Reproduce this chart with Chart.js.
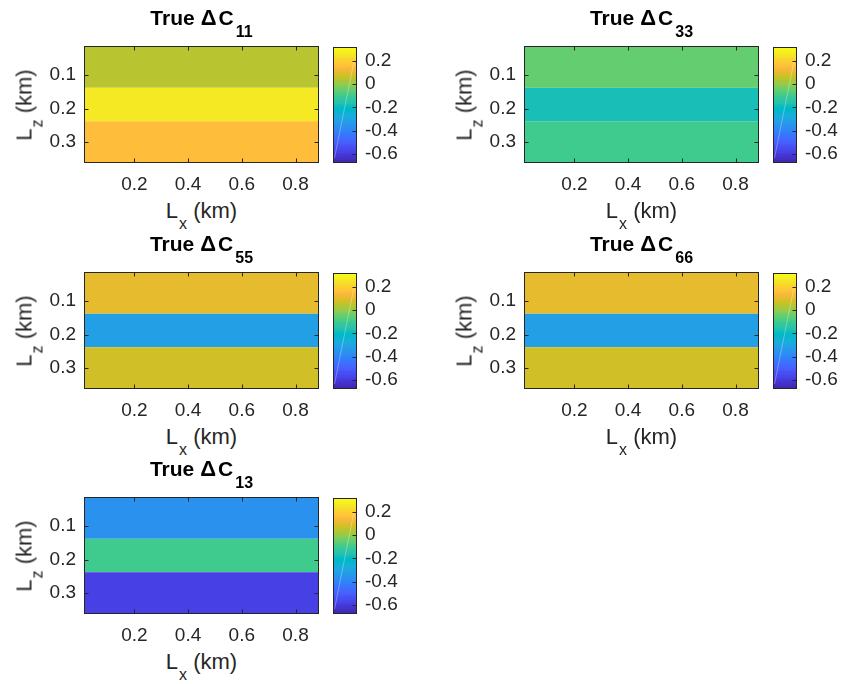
<!DOCTYPE html>
<html>
<head>
<meta charset="utf-8">
<script src="https://cdn.jsdelivr.net/npm/chart.js@4.4.1/dist/chart.umd.min.js"></script>
<style>
    body { margin: 0; background: #fff; }
    #figure { position: relative; width: 841px; height: 684px; font-family: 'Liberation Sans', Arial, sans-serif; color: #262626; }
    #figure canvas { position: absolute; }
    .title { position: absolute; text-align: center; font-weight: bold; font-size: 21px; line-height: 24px; color: #000; white-space: nowrap; }
    .title .delta { font-size: 22px; margin-left: 6px; margin-right: 2px; }
    .title sub { font-size: 16px; vertical-align: -12px; line-height: 0; margin-left: 2px; }
    .xlabel, .ylabel { position: absolute; font-size: 22px; line-height: 26px; height: 26px; white-space: nowrap; text-align: center; }
    .xlabel sub, .ylabel sub { font-size: 16px; vertical-align: -11px; line-height: 0; margin-left: 1px; }
    .ylabel { transform-origin: center; transform: rotate(-90deg); }
</style>
</head>
<body>
<div id="figure"></div>
<script>
// model extent (km) and layer interfaces
const xRange = [0.0125, 0.8875];
const zEdges = [0.0125, 0.1375, 0.2375, 0.3625];
const xTicks = [0.2, 0.4, 0.6, 0.8];
const zTicks = [0.1, 0.2, 0.3];
const cbarTicks = [-0.6, -0.4, -0.2, 0, 0.2];
const cLimits = [-0.68, 0.32];

// true perturbation per layer, top to bottom
const dC11 = [0.05, 0.26, 0.16];
const dC33 = [-0.045, -0.17, -0.095];
const dC55 = [0.105, -0.315, 0.08];
const dC66 = [0.11, -0.315, 0.085];
const dC13 = [-0.365, -0.095, -0.575];

const panels = [
    { sub: '11', values: dC11, col: 0, row: 0 },
    { sub: '33', values: dC33, col: 1, row: 0 },
    { sub: '55', values: dC55, col: 0, row: 1 },
    { sub: '66', values: dC66, col: 1, row: 1 },
    { sub: '13', values: dC13, col: 0, row: 2 }
];

// parula, 64 entries
const parula = [
    [0.2422,0.1504,0.6603],[0.2504,0.1650,0.7076],[0.2578,0.1818,0.7511],[0.2647,0.1978,0.7952],
    [0.2706,0.2147,0.8364],[0.2751,0.2342,0.8710],[0.2783,0.2559,0.8991],[0.2803,0.2782,0.9221],
    [0.2813,0.3006,0.9414],[0.2810,0.3228,0.9579],[0.2795,0.3447,0.9717],[0.2760,0.3667,0.9829],
    [0.2699,0.3892,0.9906],[0.2602,0.4123,0.9952],[0.2440,0.4358,0.9988],[0.2206,0.4603,0.9973],
    [0.1963,0.4847,0.9892],[0.1834,0.5074,0.9798],[0.1786,0.5289,0.9682],[0.1764,0.5499,0.9520],
    [0.1687,0.5703,0.9359],[0.1540,0.5902,0.9218],[0.1460,0.6091,0.9079],[0.1380,0.6276,0.8973],
    [0.1248,0.6459,0.8883],[0.1113,0.6635,0.8763],[0.0952,0.6798,0.8598],[0.0689,0.6948,0.8394],
    [0.0297,0.7082,0.8163],[0.0036,0.7203,0.7917],[0.0067,0.7312,0.7660],[0.0433,0.7411,0.7394],
    [0.0964,0.7500,0.7120],[0.1408,0.7584,0.6842],[0.1717,0.7670,0.6554],[0.1938,0.7758,0.6251],
    [0.2161,0.7843,0.5923],[0.2470,0.7918,0.5567],[0.2906,0.7973,0.5188],[0.3406,0.8008,0.4789],
    [0.3909,0.8029,0.4354],[0.4456,0.8024,0.3909],[0.5044,0.7993,0.3480],[0.5616,0.7942,0.3045],
    [0.6174,0.7876,0.2612],[0.6720,0.7793,0.2227],[0.7242,0.7698,0.1910],[0.7738,0.7598,0.1646],
    [0.8203,0.7498,0.1535],[0.8634,0.7406,0.1596],[0.9035,0.7330,0.1774],[0.9393,0.7288,0.2100],
    [0.9728,0.7298,0.2394],[0.9956,0.7434,0.2371],[0.9970,0.7659,0.2199],[0.9952,0.7893,0.2028],
    [0.9892,0.8136,0.1885],[0.9786,0.8386,0.1766],[0.9676,0.8639,0.1643],[0.9610,0.8890,0.1537],
    [0.9597,0.9135,0.1423],[0.9628,0.9373,0.1265],[0.9691,0.9606,0.1064],[0.9769,0.9839,0.0805]
];

const rgb = c => `rgb(${c.map(v => Math.round(v * 255)).join(',')})`;

function colorFor(v) {
    const t = (v - cLimits[0]) / (cLimits[1] - cLimits[0]);
    const k = Math.min(parula.length - 1, Math.max(0, Math.floor(t * parula.length)));
    return rgb(parula[k]);
}

// figure layout
const colLeft = [84, 524];
const rowTop = [46, 272, 497];
const plotW = 235, plotH = 117;
const cbarDx = 249, cbarW = 24;
const FONT = "'Liberation Sans', Arial, sans-serif";
const INK = '#262626';

const fixedTicks = list => scale => { scale.ticks = list.map(v => ({ value: v })); };
const fmt = v => parseFloat(v.toFixed(2)).toString();

const heatLayers = {
    id: 'heatLayers',
    beforeDatasetsDraw(chart, args, opts) {
        const { ctx, chartArea: a, scales: { x, y } } = chart;
        ctx.save();
        ctx.beginPath();
        ctx.rect(a.left, a.top, a.width, a.height);
        ctx.clip();
        const x0 = x.getPixelForValue(xRange[0]);
        const x1 = x.getPixelForValue(xRange[1]);
        opts.values.forEach((v, i) => {
            const y0 = y.getPixelForValue(zEdges[i]);
            const y1 = y.getPixelForValue(zEdges[i + 1]);
            ctx.fillStyle = colorFor(v);
            ctx.fillRect(x0, y0, x1 - x0, y1 - y0);
        });
        ctx.restore();
    }
};

const colorRamp = {
    id: 'colorRamp',
    beforeDatasetsDraw(chart) {
        const { ctx, chartArea: a, scales: { y } } = chart;
        const n = parula.length;
        const span = cLimits[1] - cLimits[0];
        ctx.save();
        for (let k = 0; k < n; k++) {
            const p0 = y.getPixelForValue(cLimits[0] + span * k / n);
            const p1 = y.getPixelForValue(cLimits[0] + span * (k + 1) / n);
            ctx.fillStyle = rgb(parula[k]);
            ctx.fillRect(a.left, Math.floor(p1), a.width, Math.ceil(p0) - Math.floor(p1));
        }
        // faint diagonal streak across the bar
        ctx.strokeStyle = 'rgba(255,255,255,0.3)';
        ctx.lineWidth = 1;
        ctx.beginPath();
        ctx.moveTo(a.left + 1.5, a.bottom - 5);
        ctx.lineTo(a.right - 3, a.top + 14);
        ctx.stroke();
        ctx.restore();
    }
};

// box outline with inward tick marks
const axesBox = {
    id: 'axesBox',
    afterDraw(chart, args, opts) {
        const { ctx, chartArea: a, scales } = chart;
        const L = a.left + 0.5, R = a.right - 0.5, T = a.top + 0.5, B = a.bottom - 0.5;
        const len = 4;
        ctx.save();
        ctx.strokeStyle = INK;
        ctx.lineWidth = 1;
        ctx.beginPath();
        if (opts.xTicks) {
            scales.x.ticks.forEach(t => {
                const p = Math.round(scales.x.getPixelForValue(t.value)) + 0.5;
                ctx.moveTo(p, B); ctx.lineTo(p, B - len);
                ctx.moveTo(p, T); ctx.lineTo(p, T + len);
            });
        }
        scales.y.ticks.forEach(t => {
            const p = Math.round(scales.y.getPixelForValue(t.value)) + 0.5;
            if (opts.leftTicks) { ctx.moveTo(L, p); ctx.lineTo(L + len, p); }
            ctx.moveTo(R, p); ctx.lineTo(R - len, p);
        });
        ctx.stroke();
        ctx.strokeRect(L, T, R - L, B - T);
        ctx.restore();
    }
};

const figure = document.getElementById('figure');

function addCanvas(left, top, w, h) {
    const c = document.createElement('canvas');
    c.width = w; c.height = h;
    c.style.left = left + 'px'; c.style.top = top + 'px';
    c.style.width = w + 'px'; c.style.height = h + 'px';
    figure.appendChild(c);
    return c;
}

function addText(cls, html, left, top, width) {
    const d = document.createElement('div');
    d.className = cls;
    d.innerHTML = html;
    d.style.left = left + 'px';
    d.style.top = top + 'px';
    d.style.width = width + 'px';
    figure.appendChild(d);
    return d;
}

const tickFont = { family: FONT, size: 19 };

function drawPanel(p) {
    const left = colLeft[p.col], top = rowTop[p.row];
    const padL = 70, padT = 24, padR = 10, padB = 35;

    const canvas = addCanvas(left - padL, top - padT, plotW + padL + padR, plotH + padT + padB);
    new Chart(canvas, {
        type: 'scatter',
        data: { datasets: [] },
        options: {
            responsive: false,
            animation: false,
            events: [],
            layout: { padding: { top: padT, right: padR, left: 0, bottom: 0 } },
            plugins: {
                legend: { display: false },
                tooltip: { enabled: false },
                heatLayers: { values: p.values },
                axesBox: { xTicks: true, leftTicks: true }
            },
            scales: {
                x: {
                    type: 'linear', min: xRange[0], max: xRange[1],
                    afterBuildTicks: fixedTicks(xTicks),
                    afterFit: s => { s.height = padB; },
                    grid: { display: false, drawTicks: false },
                    border: { display: false },
                    ticks: { font: tickFont, color: INK, padding: 10, callback: fmt, maxRotation: 0 }
                },
                y: {
                    type: 'linear', min: zEdges[0], max: zEdges[zEdges.length - 1], reverse: true,
                    afterBuildTicks: fixedTicks(zTicks),
                    afterFit: s => { s.width = padL; },
                    grid: { display: false, drawTicks: false },
                    border: { display: false },
                    ticks: { font: tickFont, color: INK, padding: 8, callback: fmt }
                }
            }
        },
        plugins: [heatLayers, axesBox]
    });

    // colorbar
    const cbLeft = left + cbarDx, cbTop = top + 1, cbH = plotH - 1;
    const cbPadL = 5, cbPadT = 24, cbPadR = 50;
    const cbCanvas = addCanvas(cbLeft - cbPadL, cbTop - cbPadT, cbarW + cbPadL + cbPadR, cbH + 2 * cbPadT);
    new Chart(cbCanvas, {
        type: 'scatter',
        data: { datasets: [] },
        options: {
            responsive: false,
            animation: false,
            events: [],
            layout: { padding: { top: cbPadT, bottom: cbPadT, left: cbPadL, right: 0 } },
            plugins: {
                legend: { display: false },
                tooltip: { enabled: false },
                axesBox: { xTicks: false, leftTicks: false }
            },
            scales: {
                x: { display: false, min: 0, max: 1 },
                y: {
                    type: 'linear', position: 'right', min: cLimits[0], max: cLimits[1],
                    afterBuildTicks: fixedTicks(cbarTicks),
                    afterFit: s => { s.width = cbPadR; },
                    grid: { display: false, drawTicks: false },
                    border: { display: false },
                    ticks: { font: tickFont, color: INK, padding: 8, callback: fmt }
                }
            }
        },
        plugins: [colorRamp, axesBox]
    });

    addText('title', `True<span class="delta">Δ</span>C<sub>${p.sub}</sub>`, left, top - 39.6, plotW);
    addText('xlabel', 'L<sub>x</sub> (km)', left, top + plotH + 35.4, plotW);
    const cx = left - 59.6, cy = top + plotH / 2;
    addText('ylabel', 'L<sub>z</sub> (km)', cx - plotH / 2, cy - 13, plotH);
}

panels.forEach(drawPanel);
</script>
</body>
</html>
